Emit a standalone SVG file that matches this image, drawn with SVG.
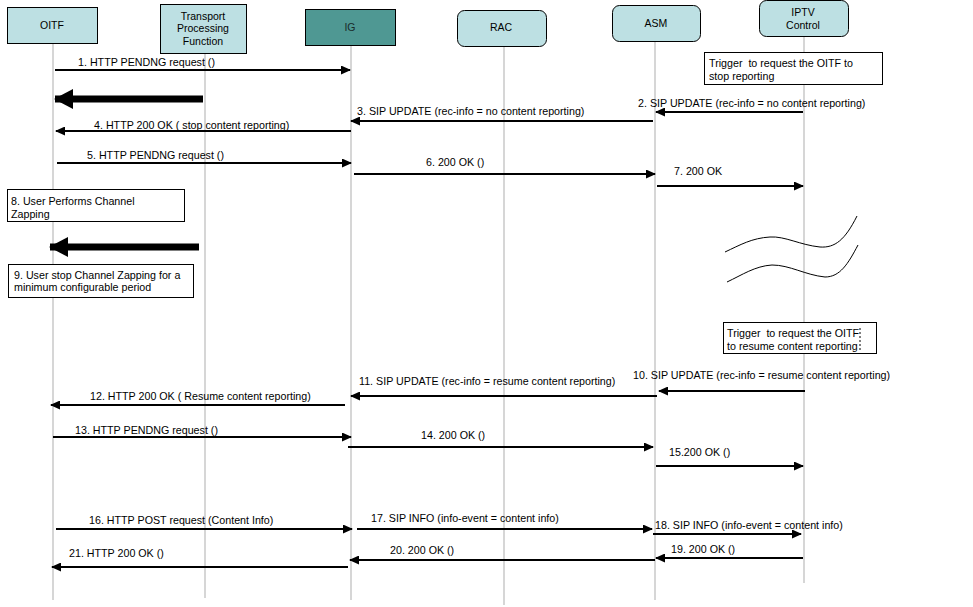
<svg xmlns="http://www.w3.org/2000/svg" width="973" height="607" viewBox="0 0 973 607">
<defs>
<style>
text{font-family:"Liberation Sans",Arial,sans-serif;font-size:10.7px;fill:#000}
.node{fill:#bde0e3;stroke:#000;stroke-width:1}
.life{stroke:#c0c0c0;stroke-width:1.3;fill:none}
.msg{stroke:#000;stroke-width:2.2;fill:none;marker-end:url(#ah)}
.big{stroke:#000;stroke-width:7;fill:none;marker-end:url(#bh)}
.note{fill:#fff;stroke:#000;stroke-width:1}
.wave{fill:none;stroke:#000;stroke-width:1}
.c{text-anchor:middle;font-size:10.5px}
</style>
<marker id="ah" markerUnits="userSpaceOnUse" markerWidth="10" markerHeight="9" refX="9" refY="4.5" orient="auto">
<path d="M0,0 L10,4.5 L0,9 z" fill="#000"/>
</marker>
<marker id="bh" markerUnits="userSpaceOnUse" markerWidth="19" markerHeight="20" refX="18" refY="10" orient="auto">
<path d="M0,0 L19,10 L0,20 z" fill="#000"/>
</marker>
</defs>
<rect width="973" height="607" fill="#fff"/>

<g id="lifelines">
<line class="life" x1="53" y1="43" x2="53" y2="600"/>
<line class="life" x1="205" y1="53" x2="205" y2="598"/>
<line class="life" x1="351" y1="45" x2="351" y2="600"/>
<line class="life" x1="504" y1="46" x2="504" y2="605"/>
<line class="life" x1="655" y1="41" x2="655" y2="600"/>
<line class="life" x1="804" y1="37" x2="804" y2="583"/>
</g>

<g id="OITF">
<rect class="node" x="7.5" y="7.5" width="90" height="36"/>
<text class="c" x="52" y="29">OITF</text>
</g>
<g id="TPF">
<rect class="node" x="160.5" y="4.5" width="86" height="49"/>
<text class="c" x="203" y="20">Transport</text>
<text class="c" x="203" y="32">Processing</text>
<text class="c" x="203" y="45">Function</text>
</g>
<g id="IG">
<rect class="node" x="305.5" y="9.5" width="90" height="36" style="fill:#4f9893"/>
<text class="c" x="350" y="31" style="fill:#1a2a2a">IG</text>
</g>
<g id="RAC">
<rect class="node" x="457.5" y="10.5" width="89" height="36" rx="7"/>
<text class="c" x="501" y="31">RAC</text>
</g>
<g id="ASM">
<rect class="node" x="612.5" y="5.5" width="88" height="36" rx="7"/>
<text class="c" x="656" y="27">ASM</text>
</g>
<g id="IPTV">
<rect class="node" x="759.5" y="0.5" width="89" height="36" rx="7"/>
<text class="c" x="803" y="16">IPTV</text>
<text class="c" x="803" y="29">Control</text>
</g>

<g id="notes">
<rect class="note" x="704.5" y="52.5" width="178" height="32"/>
<text x="709" y="67" xml:space="preserve">Trigger  to request the OITF to</text>
<text x="709" y="80">stop reporting</text>
<rect class="note" x="7.5" y="189.5" width="177" height="32"/>
<text x="11" y="205">8. User Performs Channel</text>
<text x="11" y="218">Zapping</text>
<rect class="note" x="8.5" y="264.5" width="185" height="33"/>
<text x="14" y="279">9. User stop Channel Zapping for a</text>
<text x="14" y="291">minimum configurable period</text>
<rect class="note" x="723.5" y="322.5" width="153" height="31"/>
<line x1="860" y1="328" x2="860" y2="351" stroke="#000" stroke-width="1" stroke-dasharray="2,2"/>
<text x="727" y="337" xml:space="preserve">Trigger  to request the OITF</text>
<text x="727" y="350">to resume content reporting</text>
<path class="wave" d="M725,252 C740,245 752,238 770,237 C785,236 800,245 820,247 C835,248 845,240 857,216"/>
<path class="wave" d="M727,282 C742,275 755,266 772,265 C790,265 805,275 825,277 C840,277 848,264 858,245"/>
</g>

<g id="connectors">
<line class="msg" x1="55" y1="70" x2="350" y2="70"/>
<line class="big" x1="203" y1="99" x2="55" y2="99"/>
<line class="msg" x1="803" y1="112" x2="656" y2="112"/>
<line class="msg" x1="653" y1="121" x2="351" y2="121"/>
<line class="msg" x1="351" y1="131" x2="56" y2="131"/>
<line class="msg" x1="57" y1="163" x2="351" y2="163"/>
<line class="msg" x1="354" y1="174" x2="655" y2="174"/>
<line class="msg" x1="657" y1="186" x2="803" y2="186"/>
<line class="big" x1="199" y1="247" x2="50" y2="247"/>
<line class="msg" x1="805" y1="391" x2="659" y2="391"/>
<line class="msg" x1="657" y1="396" x2="351" y2="396"/>
<line class="msg" x1="345" y1="405" x2="51" y2="405"/>
<line class="msg" x1="53" y1="437" x2="351" y2="437"/>
<line class="msg" x1="348" y1="447" x2="653" y2="447"/>
<line class="msg" x1="656" y1="466" x2="803" y2="466"/>
<line class="msg" x1="56" y1="529" x2="352" y2="529"/>
<line class="msg" x1="357" y1="529" x2="652" y2="529"/>
<line class="msg" x1="653" y1="534" x2="801" y2="534"/>
<line class="msg" x1="803" y1="558" x2="656" y2="558"/>
<line class="msg" x1="655" y1="560" x2="350" y2="560"/>
<line class="msg" x1="348" y1="567" x2="52" y2="567"/>
</g>

<g id="labels">
<text x="78" y="66">1. HTTP PENDNG request ()</text>
<text x="638" y="107">2. SIP UPDATE (rec-info = no content reporting)</text>
<text x="357" y="115">3. SIP UPDATE (rec-info = no content reporting)</text>
<text x="94" y="129">4. HTTP 200 OK ( stop content reporting)</text>
<text x="87" y="159">5. HTTP PENDNG request ()</text>
<text x="426" y="166">6. 200 OK ()</text>
<text x="674" y="175">7. 200 OK</text>
<text x="633" y="379">10. SIP UPDATE (rec-info = resume content reporting)</text>
<text x="359" y="385">11. SIP UPDATE (rec-info = resume content reporting)</text>
<text x="90" y="400">12. HTTP 200 OK ( Resume content reporting)</text>
<text x="75" y="434">13. HTTP PENDNG request ()</text>
<text x="421" y="439">14. 200 OK ()</text>
<text x="669" y="456">15.200 OK ()</text>
<text x="89" y="524">16. HTTP POST request (Content Info)</text>
<text x="371" y="522">17. SIP INFO (info-event = content info)</text>
<text x="655" y="529">18. SIP INFO (info-event = content info)</text>
<text x="671" y="553">19. 200 OK ()</text>
<text x="390" y="554">20. 200 OK ()</text>
<text x="69" y="557">21. HTTP 200 OK ()</text>
</g>
</svg>
